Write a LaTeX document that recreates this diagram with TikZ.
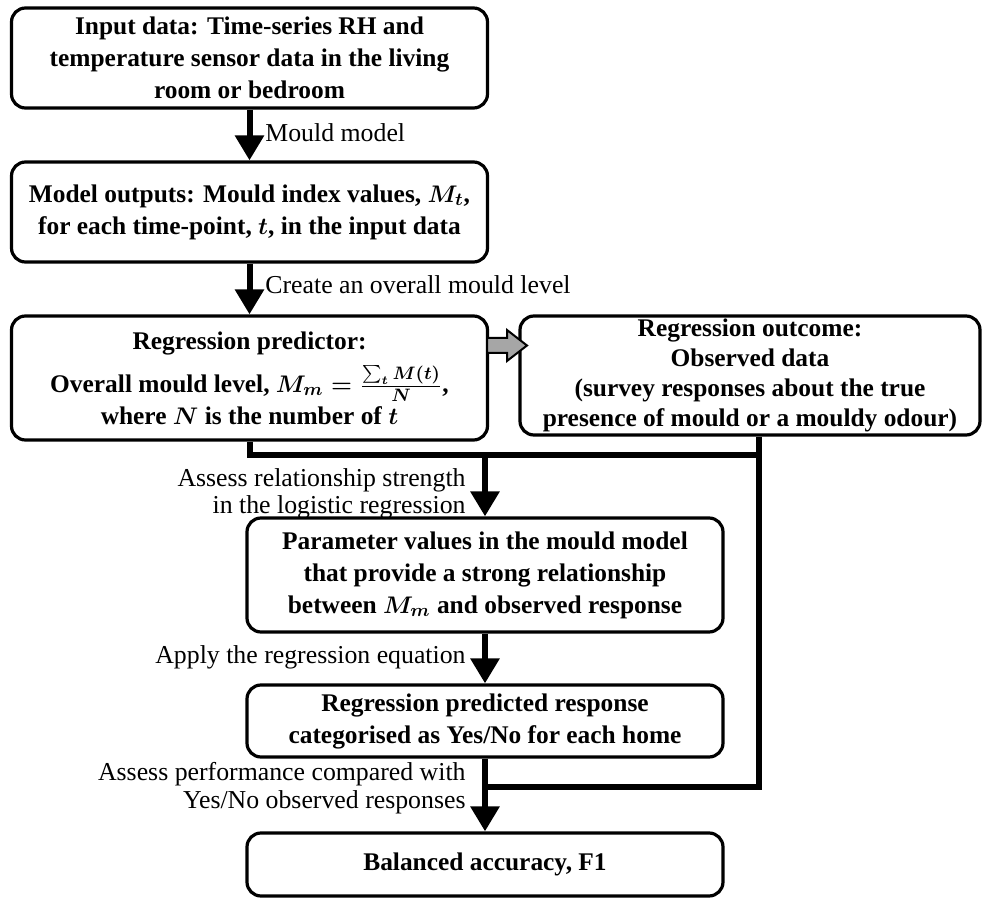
\documentclass[tikz,border=0pt]{standalone}
\usepackage{fontspec}
\setmainfont{Liberation Serif}
\usepackage{amsmath,amssymb}
\usetikzlibrary{arrows.meta}

\newcommand{\boxfont}{\fontsize{12.7}{16}\selectfont\bfseries\boldmath}
\newcommand{\lblfont}{\fontsize{12.9}{13.8}\selectfont}

\tikzset{
	stepbox/.style={draw=black, rounded corners=7pt, line width=1.6pt, align=center,
		font=\boxfont, inner sep=2pt, minimum width=238pt},
	lbl/.style={font=\lblfont, align=right, inner sep=0pt},
	flow/.style={draw=black, line width=3pt},
}

\begin{document}
\begin{tikzpicture}[x=0.5pt, y=-0.5pt, >={Triangle[width=14pt,length=12.5pt]}]

\useasboundingbox (0,0) rectangle (982,903);

\begin{scope}
	\node[stepbox, minimum height=50pt] (input) at (249.5,58)
		{Input data: Time-series RH and\\temperature sensor data in the living\\room or bedroom};
	\node[stepbox, minimum height=50pt] (outputs) at (249.5,212)
		{Model outputs: Mould index values, $M_t$,\\for each time-point, $t$, in the input data};
	\node[stepbox, minimum height=62pt] (predictor) at (249.5,378)
		{Regression predictor:\\[4.5pt]Overall mould level, $M_m=\frac{\sum_t M(t)}{N}$,\\where $N$ is the number of $t$};
	\node[stepbox, minimum width=230pt, minimum height=59.5pt, inner sep=0pt,
		font=\boxfont\fontsize{12.7}{14.9}\selectfont] (outcome) at (750,375.5)
		{Regression outcome:\\Observed data\\(survey responses about the true\\presence of mould or a mouldy odour)};
	\node[stepbox, minimum height=57pt] (params) at (485,575)
		{Parameter values in the mould model\\that provide a strong relationship\\between $M_m$ and observed response};
	\node[stepbox, minimum height=36pt] (predicted) at (485,721)
		{Regression predicted response\\categorised as Yes/No for each home};
	\node[stepbox, minimum height=31.5pt] (accuracy) at (485,864.5)
		{Balanced accuracy, F1};

	\node[lbl, anchor=west] (lblmodel) at (265,133) {Mould model};
	\node[lbl, anchor=west] (lblcreate) at (265,285) {Create an overall mould level};
	\node[lbl, anchor=east] (lblassess) at (466,494) {Assess relationship strength\\in the logistic regression};
	\node[lbl, anchor=east] (lblapply) at (466,657) {Apply the regression equation};
	\node[lbl, anchor=east] (lblperf) at (466,788) {Assess performance compared with\\Yes/No observed responses};

	\coordinate (split) at (485,455);
	\coordinate (obstop) at (759,455);
	\coordinate (obsbot) at (759,787);
	\coordinate (merge) at (485,787);
\end{scope}

% block arrow from predictor to outcome
\draw[fill=black!35, line width=1pt] (487,338) -- (507,338) -- (507,330) -- (527,345.5)
	-- (507,361) -- (507,353) -- (487,353) -- cycle;

\begin{scope}
	\path [flow,->] (input) -- (outputs);
	\path [flow,->] (outputs) -- (predictor);

	\path [flow] (predictor.south) |- (obstop);
	\path [flow] (outcome.south -| obstop) -- (obsbot) -- (merge);

	\path [flow,->] (split) -- (params);
	\path [flow,->] (params) -- (predicted);
	\path [flow,->] (predicted) -- (accuracy);
\end{scope}

\end{tikzpicture}
\end{document}
